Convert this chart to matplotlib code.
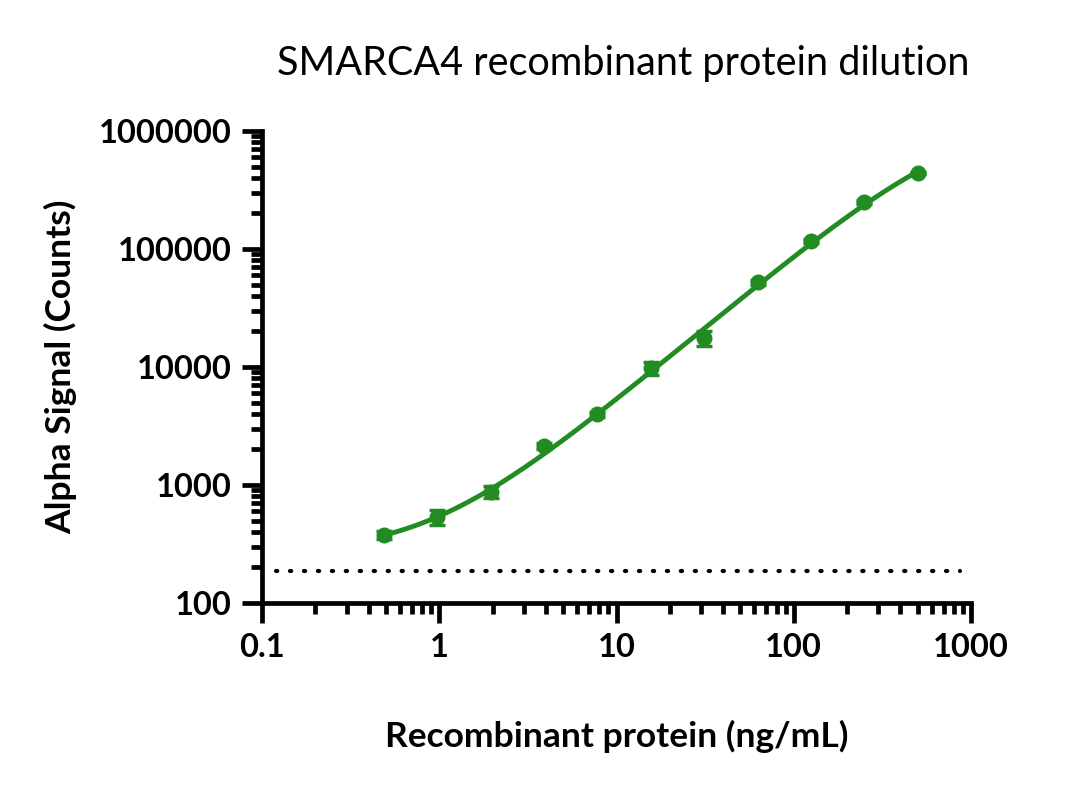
import numpy as np
import matplotlib
matplotlib.use("Agg")
import matplotlib.pyplot as plt
from matplotlib.ticker import LogLocator, FixedLocator, NullFormatter

# dilution series (ng/mL) and measured alpha signal
conc = [0.488, 0.977, 1.953, 3.906, 7.8125, 15.625, 31.25, 62.5, 125, 250, 500]
signal = [377, 535, 872, 2130, 3990, 9800, 17600, 52500, 117000, 250000, 440000]
sem = [30, 80, 100, 120, 200, 1300, 2400, 2500, 5000, 9000, 12000]
background = 187

green = "#228B22"
plt.rcParams['font.family'] = ['Lato', 'DejaVu Sans']

x = np.array(conc)
y = np.array(signal)


def shape(xx, ec50, hill):
    return 1.0 / (1.0 + (ec50 / xx) ** hill)


# 4PL fit: grid over EC50/hill, bottom/top by weighted linear least squares
best = None
for lec in np.linspace(1, 4, 241):
    for h in np.linspace(0.5, 2.0, 151):
        f = shape(x, 10 ** lec, h)
        A = np.column_stack([1 - f, f]) / y[:, None]
        coef, *_ = np.linalg.lstsq(A, np.ones_like(y), rcond=None)
        pred = A @ coef
        if np.any(coef <= 0):
            continue
        err = np.sum((pred - 1) ** 2)
        if best is None or err < best[0]:
            best = (err, 10 ** lec, h, coef)

_, ec50, hill, (bottom, top) = best
xf = np.logspace(np.log10(x.min()), np.log10(x.max()), 300)
yf = bottom + (top - bottom) * shape(xf, ec50, hill)

fig = plt.figure(figsize=(10.8, 7.93), dpi=100)
ax = fig.add_axes([262 / 1080, 1 - 603 / 793, 709 / 1080, 472 / 793])

ax.plot(xf, yf, color=green, lw=3.5, zorder=3, solid_capstyle='round')
ax.errorbar(conc, signal, yerr=sem, fmt='o', color=green, ms=10.5,
            capsize=6, elinewidth=2.5, capthick=2.5, zorder=4)
ax.axhline(background, xmin=0.02, xmax=0.985, color='black', lw=3,
           linestyle=(0, (0.3, 3.05)), dash_capstyle='round', zorder=2)

ax.set_xscale('log')
ax.set_yscale('log')
ax.set_xlim(0.1, 1000)
ax.set_ylim(100, 1e6)

for s in ['top', 'right']:
    ax.spines[s].set_visible(False)
for s in ['left', 'bottom']:
    ax.spines[s].set_linewidth(3.4)
    ax.spines[s].set_capstyle('projecting')

ax.xaxis.set_major_locator(FixedLocator([0.1, 1, 10, 100, 1000]))
ax.yaxis.set_major_locator(FixedLocator([100, 1000, 1e4, 1e5, 1e6]))
ax.xaxis.set_minor_locator(LogLocator(base=10, subs=np.arange(2, 10), numticks=20))
ax.yaxis.set_minor_locator(LogLocator(base=10, subs=np.arange(2, 10), numticks=20))
ax.xaxis.set_minor_formatter(NullFormatter())
ax.yaxis.set_minor_formatter(NullFormatter())
ax.set_xticklabels(['0.1', '1', '10', '100', '1000'])
ax.set_yticklabels(['100', '1000', '10000', '100000', '1000000'])

ax.tick_params(which='major', length=14.5, width=3.4, labelsize=23.5, pad=7)
ax.tick_params(which='minor', length=8, width=3.4)
for lab in ax.get_xticklabels() + ax.get_yticklabels():
    lab.set_fontweight('bold')

ax.set_xlabel('Recombinant protein (ng/mL)', fontsize=25.5, fontweight='bold', labelpad=42)
ax.set_ylabel('Alpha Signal (Counts)', fontsize=25.5, fontweight='bold', labelpad=16)
ax.set_title('SMARCA4 recombinant protein dilution', fontsize=28.5, pad=40, x=0.51)

fig.savefig('out.png', dpi=100)
